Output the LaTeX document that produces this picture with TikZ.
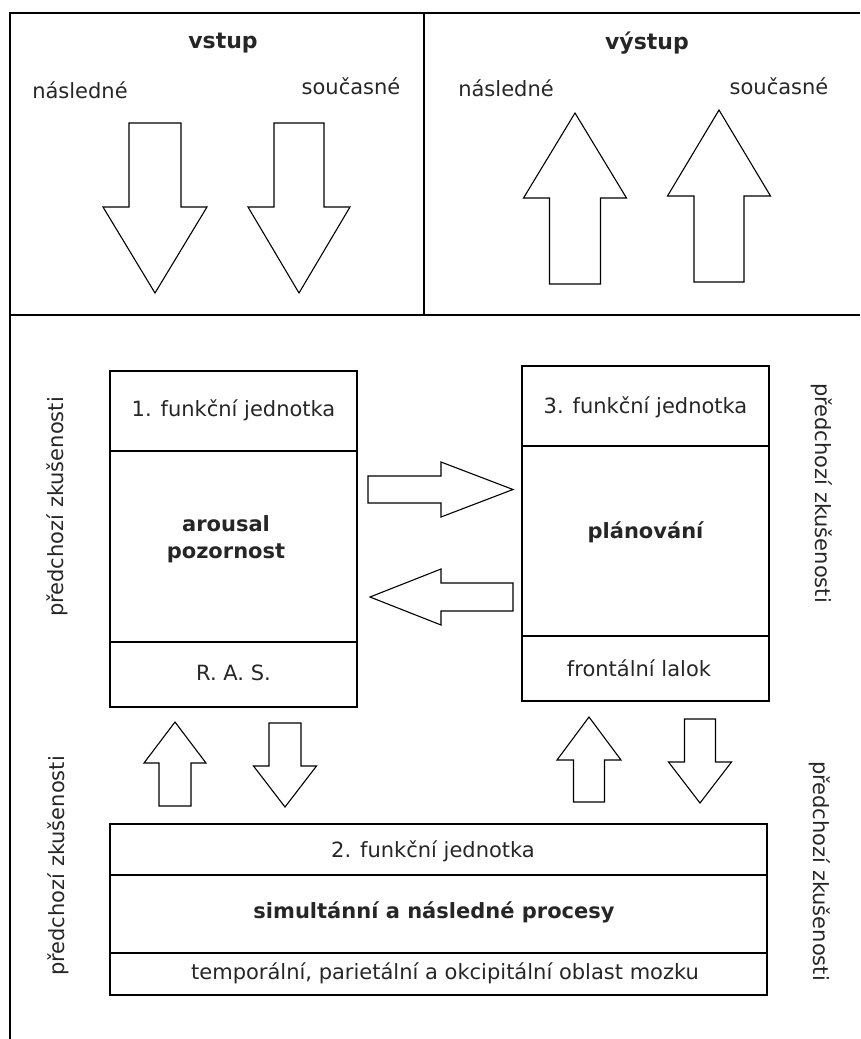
\documentclass[tikz,border=0pt]{standalone}
\usepackage{fontspec}
\setmainfont{DejaVu Sans}
\begin{document}
\begin{tikzpicture}[x=1pt,y=-1pt,line join=miter,font=\fontsize{21}{27}\selectfont,
    txt/.style={inner sep=0pt,text=black!85},
    hlav/.style={txt,font=\fontsize{22}{27}\selectfont\bfseries},
    tucne/.style={txt,font=\fontsize{21}{27}\selectfont\bfseries,align=center},
    blok/.style={draw,line width=1.3pt,inner sep=0pt},
    sipka/.style={draw,line width=1.1pt}]
    \useasboundingbox (0,0) rectangle (860,1039);
    % ramec
    \draw[line width=1.3pt] (10,1039)--(10,13)--(860,13);
    \draw[line width=1.3pt] (10,315)--(860,315);
    \draw[line width=1.3pt] (424,13)--(424,315);
    % vstup / vystup
    \node[hlav] (vstup) at (223,43) {vstup};
    \node[hlav] (vystup) at (647,43) {výstup};
    \node[txt] (vstupN) at (80,90) {následné};
    \node[txt] (vstupS) at (351,86) {současné};
    \node[txt] (vystupN) at (506,88) {následné};
    \node[txt] (vystupS) at (779,86) {současné};
    % svisle sipky: stred/zaklad/hlava/spicka/pul driku/pul hlavy
    \foreach \cx/\yb/\yh/\yt/\s/\h in {155/123/207/293/26/52, 299/123/207/293/25/51,
        575/284/198/113/25.5/51.5, 719/282/196/110/25/51.5,
        175/806/763/722/16/31, 285/723/766/807/16/31.5,
        589/802/760/717/15.5/32, 700/719/762/803/15.5/31.5}
    \draw[sipka] (\cx-\s,\yb)--(\cx-\s,\yh)--(\cx-\h,\yh)--(\cx,\yt)--(\cx+\h,\yh)--(\cx+\s,\yh)--(\cx+\s,\yb)--cycle;
    % vodorovne sipky
    \foreach \cy/\xb/\xh/\xt/\s/\h in {489.5/368/441/513/13.5/27.5, 597/513/441/370/14/28}
    \draw[sipka] (\xb,\cy-\s)--(\xh,\cy-\s)--(\xh,\cy-\h)--(\xt,\cy)--(\xh,\cy+\h)--(\xh,\cy+\s)--(\xb,\cy+\s)--cycle;
    % 1. funkcni jednotka
    \node[blok,minimum width=247,minimum height=336] (jed1) at (233.5,539) {};
    \draw[line width=1.3pt] (jed1.west |- 0,451)--(jed1.east |- 0,451);
    \draw[line width=1.3pt] (jed1.west |- 0,642)--(jed1.east |- 0,642);
    \node[txt] (jed1T) at (233.5,410) {1. funkční jednotka};
    \node[tucne] (jed1S) at (226,539) {arousal\\pozornost};
    \node[txt] (jed1B) at (233.5,673) {R. A. S.};
    % 3. funkcni jednotka
    \node[blok,minimum width=247,minimum height=335] (jed3) at (645.5,533.5) {};
    \draw[line width=1.3pt] (jed3.west |- 0,446)--(jed3.east |- 0,446);
    \draw[line width=1.3pt] (jed3.west |- 0,636)--(jed3.east |- 0,636);
    \node[txt] (jed3T) at (645.5,407) {3. funkční jednotka};
    \node[tucne] (jed3S) at (645.5,532) {plánování};
    \node[txt] (jed3B) at (639,668) {frontální lalok};
    % 2. funkcni jednotka
    \node[blok,minimum width=657,minimum height=171] (jed2) at (438.5,909.5) {};
    \draw[line width=1.3pt] (jed2.west |- 0,875)--(jed2.east |- 0,875);
    \draw[line width=1.3pt] (jed2.west |- 0,953)--(jed2.east |- 0,953);
    \node[txt] (jed2T) at (433,851) {2. funkční jednotka};
    \node[tucne] (jed2S) at (434,912) {simultánní a následné procesy};
    \node[txt] (jed2B) at (445,973) {temporální, parietální a okcipitální oblast mozku};
    % predchozi zkusenosti
    \node[txt,rotate=90] (zkusL1) at (57,507) {předchozí zkušenosti};
    \node[txt,rotate=-90] (zkusP1) at (822,493) {předchozí zkušenosti};
    \node[txt,rotate=90] (zkusL2) at (58,866) {předchozí zkušenosti};
    \node[txt,rotate=-90] (zkusP2) at (820,871) {předchozí zkušenosti};
\end{tikzpicture}
\end{document}
